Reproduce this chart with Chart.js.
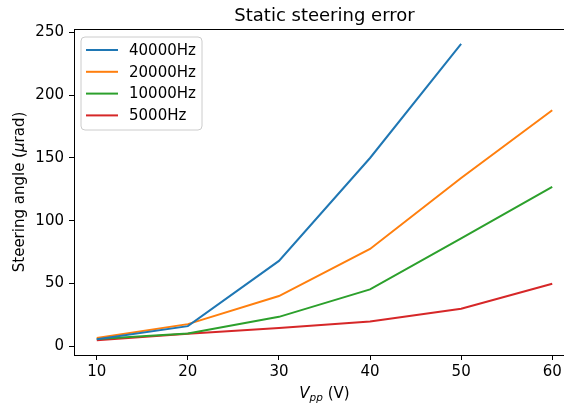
<!DOCTYPE html>
<html>
<head>
<meta charset="utf-8">
<script src="https://cdn.jsdelivr.net/npm/chart.js@4"></script>
<style>
  html, body { margin: 0; padding: 0; overflow: hidden; background: #fff; }
  canvas { display: block; }
</style>
</head>
<body>
<canvas id="myChart" width="577" height="404"></canvas>
<script>
var voltages = [10, 20, 30, 40, 50, 60];
var freqLabels = ["40000Hz", "20000Hz", "10000Hz", "5000Hz"];
var angle40k = [5.6, 16, 68, 150, 241];
var angle20k = [6.6, 17.6, 40, 77.5, 134, 188];
var angle10k = [5.8, 10.1, 23.4, 45.3, 86, 127];
var angle5k = [4.8, 10, 14.6, 19.7, 29.8, 49.8];
var xTicks = [10, 20, 30, 40, 50, 60];
var yTicks = [0, 50, 100, 150, 200, 250];
var colors = ["#1f77b4", "#ff7f0e", "#2ca02c", "#d62728"];
var chartTitle = "Static steering error";

var FONT = "'DejaVu Sans', sans-serif";
var FS = 15;

function points(vals) {
  return vals.map(function (v, i) { return { x: voltages[i], y: v }; });
}

// draws pieces of text with different styles one after another
function drawRuns(ctx, runs, x, y) {
  var total = 0;
  runs.forEach(function (r) { ctx.font = r.font; total += ctx.measureText(r.text).width; });
  var cx = x - total / 2;
  runs.forEach(function (r) {
    ctx.font = r.font;
    ctx.fillText(r.text, cx, y + (r.dy || 0));
    cx += ctx.measureText(r.text).width;
  });
}

var extras = {
  id: "extras",
  afterDraw: function (chart) {
    var ctx = chart.ctx, a = chart.chartArea;
    var midX = (a.left + a.right) / 2;
    ctx.save();
    // top and right spines
    ctx.strokeStyle = "#000";
    ctx.lineWidth = 1;
    ctx.beginPath();
    ctx.moveTo(a.left, a.top + 0.5);
    ctx.lineTo(a.right - 0.5, a.top + 0.5);
    ctx.lineTo(a.right - 0.5, a.bottom);
    ctx.stroke();

    // title, centred over the axes
    ctx.fillStyle = "#000";
    ctx.textBaseline = "alphabetic";
    ctx.textAlign = "center";
    ctx.font = "18px " + FONT;
    ctx.fillText(chartTitle, midX, 21);

    // legend box
    var bx = 81, by = 37, bw = 121, bh = 93, r = 4;
    ctx.beginPath();
    ctx.moveTo(bx + r, by);
    ctx.arcTo(bx + bw, by, bx + bw, by + bh, r);
    ctx.arcTo(bx + bw, by + bh, bx, by + bh, r);
    ctx.arcTo(bx, by + bh, bx, by, r);
    ctx.arcTo(bx, by, bx + bw, by, r);
    ctx.closePath();
    ctx.fillStyle = "rgba(255,255,255,0.8)";
    ctx.fill();
    ctx.strokeStyle = "#cccccc";
    ctx.lineWidth = 1;
    ctx.stroke();

    ctx.font = FS + "px " + FONT;
    ctx.textBaseline = "middle";
    ctx.textAlign = "left";
    chart.data.datasets.forEach(function (ds, i) {
      var ly = 50 + i * 21.8;
      ctx.strokeStyle = ds.borderColor;
      ctx.lineWidth = 2;
      ctx.beginPath();
      ctx.moveTo(86, ly);
      ctx.lineTo(118, ly);
      ctx.stroke();
      ctx.fillStyle = "#000";
      ctx.fillText(ds.label, 129, ly + 1);
    });

    // x axis label: V_pp (V)
    ctx.fillStyle = "#000";
    ctx.textBaseline = "alphabetic";
    ctx.textAlign = "left";
    drawRuns(ctx, [
      { text: "V", font: "italic " + FS + "px " + FONT },
      { text: "pp", font: "italic 10.5px " + FONT, dy: 3 },
      { text: " (V)", font: FS + "px " + FONT }
    ], midX, 398);

    // y axis label: Steering angle (μrad)
    ctx.translate(24, (a.top + a.bottom) / 2);
    ctx.rotate(-Math.PI / 2);
    drawRuns(ctx, [
      { text: "Steering angle (", font: FS + "px " + FONT },
      { text: "μ", font: "italic " + FS + "px " + FONT },
      { text: "rad)", font: FS + "px " + FONT }
    ], 0, 0);
    ctx.restore();
  }
};

var datasets = [angle40k, angle20k, angle10k, angle5k].map(function (vals, i) {
  return {
    label: freqLabels[i],
    data: points(vals),
    borderColor: colors[i],
    backgroundColor: colors[i],
    borderWidth: 2,
    pointRadius: 0,
    tension: 0,
    fill: false
  };
});

var ctx = document.getElementById("myChart").getContext("2d");
var myChart = new Chart(ctx, {
  type: "line",
  data: { datasets: datasets },
  plugins: [extras],
  options: {
    responsive: false,
    animation: false,
    layout: { padding: { left: 0, right: 2, top: 29, bottom: 0 } },
    plugins: {
      legend: { display: false },
      tooltip: { enabled: false },
      title: { display: false }
    },
    scales: {
      x: {
        type: "linear",
        min: 7.5,
        max: 62.5,
        afterBuildTicks: function (scale) {
          scale.ticks = xTicks.map(function (v) { return { value: v }; });
        },
        afterFit: function (scale) { scale.height = 49; },
        grid: { drawOnChartArea: false, tickLength: 5, color: "#000", tickWidth: 1 },
        border: { color: "#000", width: 1 },
        ticks: { color: "#000", padding: 3, maxRotation: 0, font: { family: FONT, size: FS } }
      },
      y: {
        min: -7.0,
        max: 252.8,
        afterBuildTicks: function (scale) {
          scale.ticks = yTicks.map(function (v) { return { value: v }; });
        },
        afterFit: function (scale) { scale.width = 74; },
        grid: { drawOnChartArea: false, tickLength: 5, color: "#000", tickWidth: 1 },
        border: { color: "#000", width: 1 },
        ticks: { color: "#000", padding: 5, font: { family: FONT, size: FS } }
      }
    }
  }
});
</script>
</body>
</html>
